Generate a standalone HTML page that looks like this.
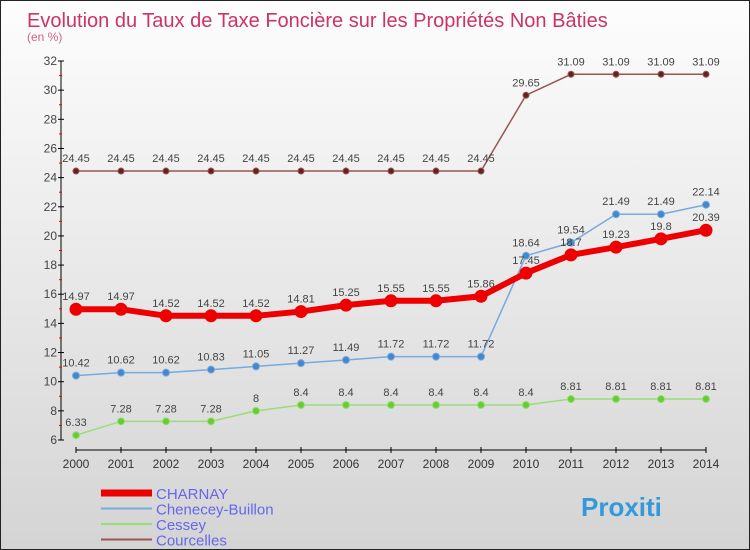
<!DOCTYPE html>
<html><head><meta charset="utf-8"><style>
body{margin:0}
#wrap{width:750px;height:550px;position:relative;box-sizing:border-box;border:1px solid #222;background:linear-gradient(#fdfdfd,#d4d4d4);font-family:"Liberation Sans",sans-serif;overflow:hidden}
</style></head><body>
<div id="wrap">
<svg id="chart" width="748" height="548"></svg>
</div>
<script>
const years=["2000","2001","2002","2003","2004","2005","2006","2007","2008","2009","2010","2011","2012","2013","2014"];
const charnay=[14.97,14.97,14.52,14.52,14.52,14.81,15.25,15.55,15.55,15.86,17.45,18.7,19.23,19.8,20.39];
const chenecey=[10.42,10.62,10.62,10.83,11.05,11.27,11.49,11.72,11.72,11.72,18.64,19.54,21.49,21.49,22.14];
const cessey=[6.33,7.28,7.28,7.28,8,8.4,8.4,8.4,8.4,8.4,8.4,8.81,8.81,8.81,8.81];
const courcelles=[24.45,24.45,24.45,24.45,24.45,24.45,24.45,24.45,24.45,24.45,29.65,31.09,31.09,31.09,31.09];
const yTicks=[6,8,10,12,14,16,18,20,22,24,26,28,30,32];
const svg=document.getElementById('chart');const NS='http://www.w3.org/2000/svg';
const X=i=>75+i*45, Y=v=>439-(v-6)*(379/26);
function mk(t,a,p){const e=document.createElementNS(NS,t);for(const k in a)e.setAttribute(k,a[k]);(p||svg).appendChild(e);return e;}
let t=mk('text',{x:26,y:26,fill:'#cc3366','font-size':20});t.textContent='Evolution du Taux de Taxe Foncière sur les Propriétés Non Bâties';

t=mk('text',{x:26,y:40,fill:'#cc6688','font-size':12});t.textContent='(en %)';

let a=mk('line',{x1:60,y1:Y(32),x2:60,y2:Y(6),stroke:'#000'});
a=mk('line',{x1:75,y1:449,x2:X(14),y2:449,stroke:'#000'});
yTicks.forEach(v=>{mk('line',{x1:57,x2:63,y1:Y(v),y2:Y(v),stroke:'#000'});
if(v<32)mk('line',{x1:58,x2:61,y1:Y(v+1),y2:Y(v+1),stroke:'#e00'});
const l=mk('text',{x:56,y:Y(v)+4,'text-anchor':'end','font-size':12,fill:'#444'});l.textContent=v;
});
years.forEach((y,i)=>{mk('line',{x1:X(i),x2:X(i),y1:446,y2:452,stroke:'#000'});
const l=mk('text',{x:X(i),y:467,'text-anchor':'middle','font-size':12,fill:'#333'});l.textContent=y;
});
function series(name,d,col,dot,w,r){const g=mk('g',{});
mk('polyline',{points:d.map((v,i)=>X(i)+','+Y(v)).join(' '),fill:'none',stroke:col,'stroke-width':w},g);
d.forEach((v,i)=>{const c=mk('circle',{cx:X(i),cy:Y(v),r:r,fill:dot,stroke:col},g);
const l=mk('text',{x:X(i),y:Y(v)-9,'text-anchor':'middle','font-size':11,fill:'#444'},g);l.textContent=v;});}
series('courcelles',courcelles,'#995555','#662222',1.5,3);
series('cessey',cessey,'#99dd77','#66cc33',1.5,3.5);
series('chenecey',chenecey,'#77aadd','#4488cc',1.5,3.5);
series('charnay',charnay,'#ee0000','#ee0000',6,6);
const leg=[['CHARNAY','#ee0000',7],['Chenecey-Buillon','#77aadd',2],['Cessey','#99dd77',2],['Courcelles','#995555',2]];
leg.forEach((l,i)=>{const g=mk('g',{});
const y=492+i*15.5;mk('line',{x1:100,x2:151,y1:y,y2:y,stroke:l[1],'stroke-width':l[2]},g);
const tx=mk('text',{x:155,y:y+6,'font-size':15,fill:'#6666ee'},g);tx.textContent=l[0];});
const p=mk('text',{x:580,y:515,'font-size':26,'font-weight':'bold',fill:'#3399dd'});p.textContent='Proxiti';

</script>
</body></html>
